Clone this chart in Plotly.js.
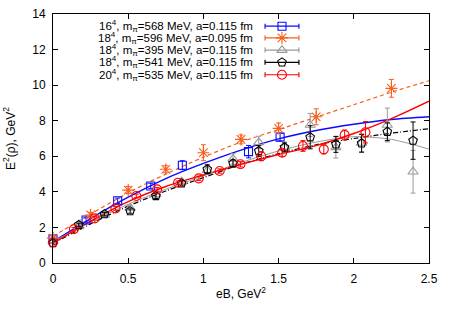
<!DOCTYPE html>
<html>
<head>
<meta charset="utf-8">
<script src="https://cdn.plot.ly/plotly-3.0.1.min.js"></script>
<style>html,body{margin:0;padding:0;background:#fff;}#chart{width:452px;height:316px;}</style>
</head>
<body>
<div id="chart"></div>
<script>
// ---- data ----
const seriesNames = [
  "16<sup>4</sup>, m<sub>π</sub>=568 MeV, a=0.115 fm",
  "18<sup>4</sup>, m<sub>π</sub>=596 MeV, a=0.095 fm",
  "18<sup>4</sup>, m<sub>π</sub>=395 MeV, a=0.115 fm",
  "18<sup>4</sup>, m<sub>π</sub>=541 MeV, a=0.115 fm",
  "20<sup>4</sup>, m<sub>π</sub>=535 MeV, a=0.115 fm"
];

const blueX   = [0, 0.22, 0.43, 0.65, 0.86, 1.30, 1.51];
const blueY   = [1.35, 2.42, 3.5, 4.33, 5.5, 6.26, 7.08];
const blueErr = [0.12, 0.12, 0.15, 0.15, 0.25, 0.35, 0.22];

const orangeX   = [0, 0.25, 0.5, 0.75, 1.0, 1.25, 1.5, 1.75, 2.25];
const orangeY   = [1.4, 2.7, 4.1, 5.27, 6.2, 6.95, 7.57, 8.22, 9.82];
const orangeErr = [0.15, 0.15, 0.2, 0.2, 0.45, 0.25, 0.3, 0.45, 0.5];

const x18 = [0, 0.171, 0.342, 0.513, 0.684, 0.855, 1.026, 1.197, 1.368, 1.539, 1.71, 1.881, 2.052, 2.223, 2.394];
const grayY   = [1.25, 2.05, 2.7, 3.1, 3.85, 4.57, 5.2, 5.85, 6.78, 6.5, 7.76, 6.5, 6.75, 7.76, 5.13];
const grayErr = [0.1, 0.1, 0.12, 0.12, 0.15, 0.15, 0.2, 0.3, 0.35, 0.3, 0.65, 0.6, 0.5, 0.95, 1.2];
const blackY   = [1.12, 2.14, 2.75, 2.92, 3.77, 4.48, 5.27, 5.6, 6.3, 6.5, 7.07, 6.67, 6.73, 7.38, 6.88];
const blackErr = [0.1, 0.1, 0.1, 0.12, 0.15, 0.15, 0.25, 0.2, 0.3, 0.25, 0.65, 0.45, 0.5, 0.5, 1.05];

const redX   = [0, 0.1385, 0.277, 0.4155, 0.554, 0.6925, 0.831, 0.9695, 1.108, 1.2465, 1.385, 1.5235, 1.662, 1.8005, 1.939, 2.0775];
const redY   = [1.15, 1.9, 2.51, 3.07, 3.77, 4.14, 4.51, 4.76, 5.17, 5.55, 6.0, 6.2, 6.58, 6.39, 7.2, 7.35];
const redErr = [0.1, 0.1, 0.1, 0.1, 0.1, 0.1, 0.1, 0.12, 0.12, 0.15, 0.25, 0.2, 0.3, 0.25, 0.28, 0.6];

// fit curves
const fitX      = [0, 0.25, 0.5, 0.75, 1.0, 1.25, 1.5, 1.75, 2.0, 2.25, 2.5];
const fitBlue   = [1.2, 2.5, 3.7, 4.75, 5.6, 6.35, 6.98, 7.45, 7.8, 8.07, 8.22];
const fitOrange = [1.5, 2.75, 3.95, 5.0, 5.95, 6.8, 7.5, 8.2, 8.9, 9.6, 10.25];
const fitGray   = [1.2, 2.3, 3.3, 4.15, 4.9, 5.65, 6.3, 6.8, 7.1, 6.95, 6.4];
const fitBlack  = [1.1, 2.2, 3.2, 4.05, 4.8, 5.55, 6.15, 6.65, 7.0, 7.3, 7.55];
const fitRed    = [1.1, 2.35, 3.45, 4.3, 4.95, 5.55, 6.1, 6.6, 7.28, 8.12, 9.1];

const xTicks = [0, 0.5, 1, 1.5, 2, 2.5];
const yTicks = [0, 2, 4, 6, 8, 10, 12, 14];

// ---- styles ----
const colors  = ['#0a0aff', '#f85d1a', '#999999', '#000000', '#ff0000'];
const symbols = ['square-open', 'asterisk-open', 'triangle-up-open', 'pentagon-open', 'circle-open'];
const sizes   = [8, 10, 9, 9, 9];
const fitDash = ['solid', '4px,3px', 'solid', '5px,2px,1px,2px', 'solid'];
const fitW    = [1.4, 1.2, 1.0, 1.2, 1.4];

const ptsX = [blueX, orangeX, x18, x18, redX];
const ptsY = [blueY, orangeY, grayY, blackY, redY];
const ptsE = [blueErr, orangeErr, grayErr, blackErr, redErr];
const fits = [fitBlue, fitOrange, fitGray, fitBlack, fitRed];

const FONT = 'Liberation Sans, Arial, Helvetica, sans-serif';
const traces = [];
fits.forEach((f, i) => {
  traces.push({
    x: fitX, y: f, mode: 'lines', type: 'scatter', showlegend: false, hoverinfo: 'skip',
    line: {color: colors[i], width: fitW[i], dash: fitDash[i], shape: 'spline', smoothing: 0.8}
  });
});
ptsX.forEach((xs, i) => {
  traces.push({
    x: xs, y: ptsY[i], mode: 'markers', type: 'scatter', showlegend: false, cliponaxis: false,
    marker: {symbol: symbols[i], size: sizes[i], color: colors[i], line: {color: colors[i], width: 1.1}},
    error_y: {type: 'data', array: ptsE[i], visible: true, color: colors[i], thickness: 1, width: 2.5}
  });
});

// ---- custom legend (text on the left, sample on the right, as in the reference) ----
const rowsY = [0.951, 0.904, 0.855, 0.806, 0.756];
const sx0 = 0.564, sx1 = 0.654, sxm = 0.609, textRight = 0.535;
const shapes = [];
const annotations = [];
rowsY.forEach((ry, i) => {
  shapes.push({type: 'line', xref: 'paper', yref: 'paper', x0: sx0, x1: sx1, y0: ry, y1: ry,
               line: {color: colors[i], width: 1.2}});
  [sx0, sx1].forEach(cx => shapes.push({type: 'line', xref: 'paper', yref: 'paper', x0: cx, x1: cx,
               y0: ry - 0.01, y1: ry + 0.01, line: {color: colors[i], width: 1.2}}));
  annotations.push({xref: 'paper', yref: 'paper', x: textRight, y: ry, xanchor: 'right', yanchor: 'middle',
               text: seriesNames[i], showarrow: false, font: {family: FONT, size: 11.5, color: '#000'}, borderpad: 0});
  traces.push({x: [sxm], y: [ry], xaxis: 'x2', yaxis: 'y2', mode: 'markers', type: 'scatter',
               showlegend: false, hoverinfo: 'skip', cliponaxis: false,
               marker: {symbol: symbols[i], size: sizes[i], color: colors[i], line: {color: colors[i], width: 1.1}}});
});

const axisCommon = {
  showgrid: false, zeroline: false, showline: true, linecolor: '#000', linewidth: 1,
  ticks: 'inside', ticklen: 5, tickwidth: 1, tickcolor: '#000', mirror: 'ticks',
  tickfont: {family: FONT, size: 12, color: '#000'}
};

const layout = {
  width: 452, height: 316,
  margin: {l: 53, r: 23, t: 14, b: 53},
  paper_bgcolor: '#fff', plot_bgcolor: '#fff',
  showlegend: false,
  font: {family: FONT, size: 12, color: '#000'},
  xaxis: Object.assign({}, axisCommon, {
    range: [0, 2.5], tickvals: xTicks, ticktext: xTicks.map(String), ticklabelstandoff: 5,
    title: {text: 'eB, GeV<sup>2</sup>', font: {family: FONT, size: 12}, standoff: 4}
  }),
  yaxis: Object.assign({}, axisCommon, {
    range: [0, 14], tickvals: yTicks, ticktext: yTicks.map(String), ticklabelstandoff: 4,
    title: {text: 'E<sup>2</sup>(ρ), GeV<sup>2</sup>', font: {family: FONT, size: 12}, standoff: 14}
  }),
  xaxis2: {overlaying: 'x', range: [0, 1], visible: false, fixedrange: true},
  yaxis2: {overlaying: 'y', range: [0, 1], visible: false, fixedrange: true},
  shapes: shapes,
  annotations: annotations
};

Plotly.newPlot('chart', traces, layout, {staticPlot: true, displayModeBar: false});
</script>
</body>
</html>
